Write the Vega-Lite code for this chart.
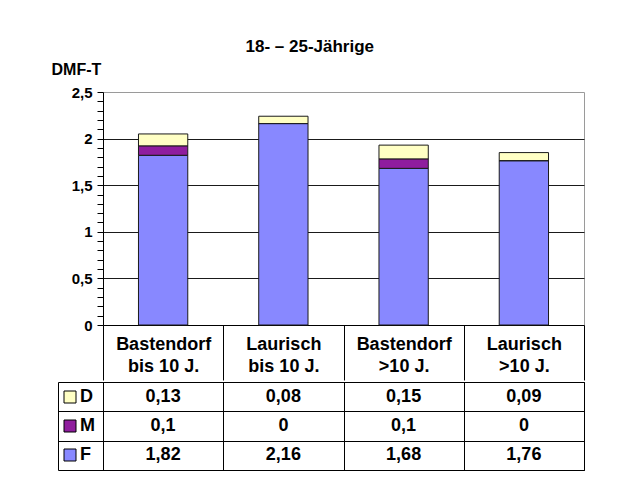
{
  "$schema": "https://vega.github.io/schema/vega-lite/v6.json",
  "background": "white",
  "padding": {"left": 50, "top": 37, "right": 10, "bottom": 5},
  "title": {"text": "18- – 25-Jährige", "fontSize": 17, "fontWeight": "bold", "color": "black", "anchor": "middle", "frame": "bounds", "dx": -8, "offset": 5},
  "datasets": {
    "d": [
      {"cat": "Bastendorf|bis 10 J.", "series": "D", "value": 0.13},
      {"cat": "Bastendorf|bis 10 J.", "series": "M", "value": 0.1},
      {"cat": "Bastendorf|bis 10 J.", "series": "F", "value": 1.82},
      {"cat": "Laurisch|bis 10 J.", "series": "D", "value": 0.08},
      {"cat": "Laurisch|bis 10 J.", "series": "M", "value": 0},
      {"cat": "Laurisch|bis 10 J.", "series": "F", "value": 2.16},
      {"cat": "Bastendorf|>10 J.", "series": "D", "value": 0.15},
      {"cat": "Bastendorf|>10 J.", "series": "M", "value": 0.1},
      {"cat": "Bastendorf|>10 J.", "series": "F", "value": 1.68},
      {"cat": "Laurisch|>10 J.", "series": "D", "value": 0.09},
      {"cat": "Laurisch|>10 J.", "series": "M", "value": 0},
      {"cat": "Laurisch|>10 J.", "series": "F", "value": 1.76}
    ]
  },
  "spacing": 0,
  "resolve": {"legend": {"color": "independent"}},
  "vconcat": [
    {
      "width": 481,
      "height": 233,
      "view": {"stroke": "#9a9a9a"},
      "data": {"name": "d"},
      "transform": [{"calculate": "indexof(['F', 'M', 'D'], datum.series)", "as": "stackRank"}],
      "mark": {"type": "bar", "width": {"band": 0.41}, "stroke": "#1a1a1a", "strokeWidth": 1},
      "encoding": {
        "x": {
          "field": "cat", "type": "nominal", "sort": null,
          "scale": {"paddingInner": 0, "paddingOuter": 0},
          "axis": {
            "title": null, "orient": "bottom", "domain": true, "domainColor": "black",
            "ticks": true, "tickBand": "extent", "tickSize": 55, "tickColor": "black",
            "labelExpr": "split(datum.label, '|')",
            "labelFontSize": 18, "labelFontWeight": "bold", "labelColor": "black",
            "labelPadding": -45, "labelLineHeight": 22, "labelBaseline": "top", "labelAngle": 0,
            "grid": false
          }
        },
        "y": {
          "field": "value", "type": "quantitative", "stack": "zero",
          "scale": {"domain": [0, 2.5], "nice": false},
          "axis": {
            "title": "DMF-T", "titleAngle": 0, "titleAlign": "left", "titleBaseline": "alphabetic",
            "titleX": -52, "titleY": -18, "titleFontSize": 16, "titleFontWeight": "bold", "titleColor": "black",
            "values": [0,0.1,0.2,0.3,0.4,0.5,0.6,0.7,0.8,0.9,1,1.1,1.2,1.3,1.4,1.5,1.6,1.7,1.8,1.9,2,2.1,2.2,2.3,2.4,2.5],
            "format": ".1~f",
            "labelExpr": "abs(datum.value*2-round(datum.value*2)) < 0.001 ? replace(datum.label, '.', ',') : ''",
            "labelFontSize": 15, "labelFontWeight": "bold", "labelColor": "black", "labelPadding": 5,
            "tickSize": 6, "tickColor": "black", "domainColor": "black",
            "grid": true, "gridColor": "#1a1a1a",
            "gridOpacity": {"condition": {"test": "abs(datum.value*2-round(datum.value*2)) < 0.001 && datum.value > 0.01 && datum.value < 2.49", "value": 1}, "value": 0}
          }
        },
        "color": {
          "field": "series", "type": "nominal",
          "scale": {"domain": ["D", "M", "F"], "range": ["#FFFFC4", "#8F1D9E", "#8888FF"]},
          "legend": null
        },
        "order": {"field": "stackRank", "type": "quantitative", "sort": "ascending"}
      }
    },
    {
      "width": 481,
      "height": 88,
      "view": {"stroke": "black"},
      "data": {"name": "d"},
      "encoding": {
        "x": {
          "field": "cat", "type": "nominal", "sort": null,
          "scale": {"paddingInner": 0, "paddingOuter": 0},
          "axis": {"title": null, "labels": false, "ticks": false, "domain": false, "grid": true, "tickBand": "extent", "gridColor": "black", "gridOpacity": 1}
        },
        "y": {
          "field": "series", "type": "nominal",
          "scale": {"domain": ["D", "M", "F"], "paddingInner": 0, "paddingOuter": 0},
          "axis": {"title": null, "labels": false, "offset": 45, "domain": true, "domainColor": "black", "ticks": true, "tickBand": "extent", "tickSize": -526, "tickColor": "black", "grid": false}
        }
      },
      "layer": [
        {
          "mark": {"type": "text", "fontSize": 18, "fontWeight": "bold", "color": "black"},
          "encoding": {"text": {"field": "value", "type": "quantitative", "format": "~g"}}
        },
        {
          "mark": {"type": "square", "size": 0, "filled": true},
          "encoding": {
            "color": {
              "field": "series", "type": "nominal",
              "scale": {"domain": ["D", "M", "F"], "range": ["#FFFFC4", "#8F1D9E", "#8888FF"]},
              "legend": {
                "title": null, "orient": "left", "offset": -44,
                "symbolType": "square", "symbolSize": 144, "symbolStrokeColor": "black", "symbolStrokeWidth": 1, "symbolOpacity": 1,
                "labelFontSize": 18, "labelFontWeight": "bold", "labelColor": "black", "labelOffset": 1,
                "rowPadding": 11, "padding": 6
              }
            }
          }
        }
      ]
    }
  ],
  "config": {
    "font": "Liberation Sans",
    "locale": {"number": {"decimal": ",", "thousands": ".", "grouping": [3], "currency": ["", " €"]}}
  }
}
